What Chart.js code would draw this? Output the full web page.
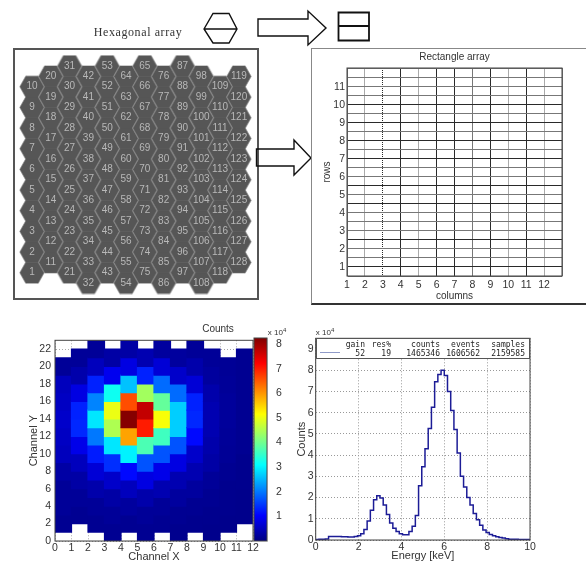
<!DOCTYPE html>
<html>
<head>
<meta charset="utf-8">
<script src="https://cdn.jsdelivr.net/npm/chart.js@4"></script>
<style>
  html, body { margin: 0; padding: 0; background: #fff; overflow: hidden; }
  #page { position: relative; width: 586px; height: 561px; overflow: hidden; filter: blur(0.4px); font-family: "Liberation Sans", sans-serif; color: #333; }
  #page canvas { position: absolute; }
  .text { position: absolute; transform: translate(-50%, -50%); white-space: nowrap; }
  .frame { position: absolute; box-sizing: border-box; }
  sup { font-size: 6px; }
</style>
</head>
<body>
<div id="page">
  <svg width="586" height="110" style="position:absolute;left:0;top:0" fill="none" stroke="#111">
    <path d="M204 29 L213 13.5 L229 13.5 L237 29 L229 43 L213 43 Z M204 29 H237" stroke-width="1.4"/>
    <path d="M308 19 H258 V36 H308 V45 L326 28 L308 11 Z" stroke-width="1.4"/>
    <path d="M338.5 12.5 H369 V40.5 H338.5 Z M338.5 26 H369" stroke-width="1.8"/>
  </svg>
  <div class="text" style="left:138px;top:32px;font:12px 'Liberation Serif',serif;letter-spacing:0.6px">Hexagonal array</div>

  <canvas id="hexChart" style="left:13px;top:48px" width="246" height="252"></canvas>
  <div class="frame" style="left:13px;top:48px;width:246px;height:252px;border:2.5px solid #555"></div>

  <svg width="586" height="200" style="position:absolute;left:0;top:100px" fill="none" stroke="#111">
    <path d="M294 49 H256.500 V66 H294 V75 L311 58 L294 40 Z" stroke-width="1.4"/>
  </svg>

  <div class="frame" style="left:311px;top:48px;width:280px;height:257px;border:1px solid #888;border-bottom:2px solid #333"></div>
  <canvas id="rectChart" style="left:311px;top:48px" width="275" height="256"></canvas>

  <canvas id="heatChart" style="left:20px;top:330px" width="240" height="240"></canvas>
  <canvas id="colorbarChart" style="left:250px;top:330px" width="40" height="220"></canvas>
  <div class="text" style="left:218px;top:328px;font-size:10px">Counts</div>
  <div class="text" style="left:277px;top:332px;font-size:8px">x 10<sup>4</sup></div>

  <canvas id="energyChart" style="left:290px;top:322px" width="296" height="248"></canvas>
  <div class="text" style="left:325px;top:332px;font-size:8px">x 10<sup>4</sup></div>
  <div id="legend" class="frame" style="left:316px;top:338px;width:214px;height:21px;background:#fff;border:1px solid #555"></div>
</div>
<script>
// hexagon numbering and counts, one list per detector column (bottom hexagon first)
const hexColumnBottomId = [1, 11, 21, 32, 43, 54, 75, 86, 97, 108, 118, 128];
const hexColumnIdStep = [1, 1, 1, 1, 1, 1, -1, -1, -1, -1, -1, -1];
const hexColumnFirstRow = [1, 2, 1, 0, 1, 0, 1, 0, 1, 0, 1, 2];

const countsColumn0 = [0.15, 0.2, 0.2, 0.3, 0.5, 0.55, 0.6, 0.55, 0.5, 0.2];
const countsColumn1 = [0.15, 0.2, 0.3, 0.5, 0.85, 1.35, 1.3, 0.8, 0.35, 0.2];
const countsColumn2 = [0.15, 0.2, 0.35, 0.7, 1.25, 2.0, 2.9, 2.1, 1.3, 0.5, 0.2];
const countsColumn3 = [0.15, 0.2, 0.3, 0.6, 1.4, 2.9, 4.5, 5.0, 3.2, 0.9, 0.3];
const countsColumn4 = [0.15, 0.25, 0.5, 1.1, 3.0, 5.9, 8.2, 6.6, 2.6, 0.8, 0.3];
const countsColumn5 = [0.15, 0.2, 0.35, 0.8, 1.7, 3.7, 7.0, 7.7, 4.4, 1.3, 0.4];
const countsColumn6 = [0.15, 0.2, 0.4, 0.85, 1.7, 3.6, 5.1, 3.9, 1.9, 0.7, 0.25];
const countsColumn7 = [0.12, 0.15, 0.25, 0.4, 0.8, 1.7, 2.7, 2.7, 1.9, 0.6, 0.25];
const countsColumn8 = [0.12, 0.15, 0.25, 0.4, 0.6, 1.1, 1.35, 1.3, 0.7, 0.35, 0.2];
const countsColumn9 = [0.1, 0.12, 0.15, 0.2, 0.3, 0.35, 0.4, 0.4, 0.35, 0.25, 0.2];
const countsColumn10 = [0.1, 0.12, 0.12, 0.15, 0.18, 0.2, 0.22, 0.22, 0.2, 0.18];
const countsColumn11 = [0.1, 0.1, 0.12, 0.12, 0.15, 0.15, 0.15, 0.15, 0.15, 0.15];
const countsColumns = [countsColumn0, countsColumn1, countsColumn2, countsColumn3, countsColumn4, countsColumn5,
  countsColumn6, countsColumn7, countsColumn8, countsColumn9, countsColumn10, countsColumn11];

// spectrum, value of each bin starts at the matching edge (counts x 10^4)
const energyEdges = [0, 0.15, 0.3, 0.45, 0.6, 0.75, 0.9, 1.05, 1.2, 1.35, 1.5, 1.65, 1.8, 1.95, 2.1, 2.25, 2.4, 2.55, 2.7, 2.85,
  3, 3.15, 3.3, 3.45, 3.6, 3.75, 3.9, 4.05, 4.2, 4.35, 4.5, 4.65, 4.8, 4.95, 5.1, 5.25, 5.4, 5.55, 5.7, 5.85,
  6, 6.15, 6.3, 6.45, 6.6, 6.75, 6.9, 7.05, 7.2, 7.35, 7.5, 7.65, 7.8, 7.95, 8.1, 8.25, 8.4, 8.55, 8.7, 8.85,
  9, 9.15, 9.3, 9.45, 9.6, 9.75, 9.9, 10];
const energyCounts = [0.02, 0.03, 0.04, 0.05, 0.17, 0.17, 0.17, 0.16, 0.15, 0.15, 0.14, 0.14, 0.17, 0.2, 0.3, 0.5, 0.9, 1.4, 1.9, 2.08,
  1.98, 1.65, 1.2, 0.8, 0.55, 0.4, 0.3, 0.25, 0.25, 0.4, 0.65, 1.15, 2.55, 3.45, 4.3, 5.25, 6.25, 7.45, 7.8, 8.0,
  7.75, 7.0, 6.1, 5.2, 4.1, 3.0, 2.5, 2.0, 1.65, 1.25, 0.95, 0.7, 0.47, 0.35, 0.26, 0.2, 0.15, 0.12, 0.09, 0.06,
  0.04, 0.03, 0.03, 0.02, 0.02, 0.02, 0.02, 0.02];

const legendHeaders = ["gain", "res%", "counts", "events", "samples"];
const legendValues = ["52", "19", "1465346", "1606562", "2159585"];
const legendRightEdges = [365, 391, 440, 480, 525];

// how dark each rectangle array grid line came out in the scan
const rectDarkColumns = [3, 4, 6, 7, 9, 11];
const rectLightColumns = [2, 5, 10, 12];
const rectDarkRows = [1, 2.5, 4.5, 5.5, 7, 8, 9, 10];

const HEAT_MAX = 8.25;
const JET_STOPS = [0, 0.125, 0.375, 0.625, 0.875, 1];
const TICK_COLOR = "#333";

Chart.defaults.animation = false;
Chart.defaults.font.family = '"Liberation Sans", sans-serif';
Chart.defaults.color = TICK_COLOR;
Chart.defaults.plugins.legend.display = false;
Chart.defaults.plugins.tooltip.enabled = false;

function jet(t) {
  const clamp = (v) => Math.round(255 * Math.max(0, Math.min(1, v)));
  const r = clamp(1.5 - Math.abs(4 * t - 3));
  const g = clamp(1.5 - Math.abs(4 * t - 2));
  const b = clamp(1.5 - Math.abs(4 * t - 1));
  return `rgb(${r}, ${g}, ${b})`;
}

// the plots are boxed on all four sides, Chart.js only has left and bottom
const plotBoxPlugin = {
  id: "plotBox",
  afterDraw(chart) {
    const { left, top, width, height } = chart.chartArea;
    const ctx = chart.ctx;
    ctx.save();
    ctx.strokeStyle = "#444";
    ctx.lineWidth = 1;
    ctx.strokeRect(left, top, width, height);
    ctx.restore();
  },
};

const hexLabelsPlugin = {
  id: "hexLabels",
  afterDatasetsDraw(chart) {
    const ctx = chart.ctx;
    const meta = chart.getDatasetMeta(0);
    ctx.save();
    ctx.fillStyle = "#b8b8b8";
    ctx.font = '10px "Liberation Sans", sans-serif';
    ctx.textAlign = "center";
    ctx.textBaseline = "middle";
    meta.data.forEach((point, index) => {
      ctx.fillText(String(chart.data.datasets[0].data[index].id), point.x, point.y);
    });
    ctx.restore();
  },
};

// neighbours in a column merge in the scan, only the slanted sides show a line
function hexagonSprite() {
  const sprite = document.createElement("canvas");
  sprite.width = 26;
  sprite.height = 23;
  const ctx = sprite.getContext("2d");
  ctx.beginPath();
  ctx.moveTo(0.8, 11.5);
  ctx.lineTo(6.8, 0.8);
  ctx.lineTo(19.2, 0.8);
  ctx.lineTo(25.2, 11.5);
  ctx.lineTo(19.2, 22.2);
  ctx.lineTo(6.8, 22.2);
  ctx.closePath();
  ctx.fillStyle = "#565656";
  ctx.fill();
  ctx.beginPath();
  ctx.moveTo(6.8, 0.8);
  ctx.lineTo(0.8, 11.5);
  ctx.lineTo(6.8, 22.2);
  ctx.moveTo(19.2, 0.8);
  ctx.lineTo(25.2, 11.5);
  ctx.lineTo(19.2, 22.2);
  ctx.strokeStyle = "#858585";
  ctx.lineWidth = 0.7;
  ctx.stroke();
  return sprite;
}

function buildHexPoints() {
  const points = [];
  countsColumns.forEach((counts, col) => {
    counts.forEach((_, i) => {
      points.push({ x: col, y: hexColumnFirstRow[col] + 2 * i, id: hexColumnBottomId[col] + hexColumnIdStep[col] * i });
    });
  });
  return points;
}

function buildHeatCells() {
  const cells = [];
  countsColumns.forEach((counts, col) => {
    counts.forEach((value, i) => {
      const row = hexColumnFirstRow[col] + 2 * i;
      cells.push({ x: col + 0.5, y: [row, row + 2], value });
    });
  });
  return cells;
}

const hexPoints = buildHexPoints();
const heatCells = buildHeatCells();

new Chart(document.getElementById("hexChart"), {
  type: "scatter",
  data: {
    datasets: [{
      data: hexPoints,
      pointStyle: hexagonSprite(),
      pointRadius: 12,
    }],
  },
  plugins: [hexLabelsPlugin],
  options: {
    responsive: false,
    layout: { padding: 0, autoPadding: false },
    scales: {
      x: { display: false, min: -1.01, max: 12.07 },
      y: { display: false, min: -1.64, max: 22.75 },
    },
  },
});

function rectColumnColor(value) {
  if (rectDarkColumns.includes(value)) return "#2a2a2a";
  if (rectLightColumns.includes(value)) return "#aaa";
  return "#777";
}

new Chart(document.getElementById("rectChart"), {
  type: "scatter",
  data: { datasets: [{ data: [] }] },
  plugins: [plotBoxPlugin],
  options: {
    responsive: false,
    layout: { padding: { left: 10, right: 24, top: 0, bottom: 2 } },
    plugins: {
      title: {
        display: true,
        text: "Rectangle array",
        fullSize: false,
        color: "#333",
        font: { size: 10, weight: "normal" },
        padding: { top: 3, bottom: 5 },
      },
    },
    scales: {
      x: {
        type: "linear",
        min: 1,
        max: 13,
        afterFit(scale) { scale.height = 26; },
        ticks: {
          stepSize: 1,
          padding: 3,
          maxRotation: 0,
          font: { size: 10.5 },
          callback: (value) => (value <= 12 ? String(value) : ""),
        },
        title: { display: true, text: "columns", font: { size: 10 }, padding: 0 },
        grid: {
          drawTicks: false,
          color: (ctx) => rectColumnColor(ctx.tick.value),
        },
        border: { dash: (ctx) => (ctx.tick && ctx.tick.value === 3 ? [1, 1] : []) },
      },
      y: {
        type: "linear",
        min: 0.5,
        max: 12.05,
        afterFit(scale) { scale.width = 26; },
        ticks: {
          stepSize: 0.5,
          autoSkip: false,
          includeBounds: false,
          padding: 2,
          font: { size: 10.5 },
          callback: (value) => (Number.isInteger(value) && value <= 11 ? String(value) : ""),
        },
        title: { display: true, text: "rows", font: { size: 10 }, padding: 0 },
        grid: {
          drawTicks: false,
          color: (ctx) => (rectDarkRows.includes(ctx.tick.value) ? "#2a2a2a" : "#777"),
        },
      },
    },
  },
});

new Chart(document.getElementById("heatChart"), {
  type: "bar",
  data: {
    datasets: [{
      data: heatCells,
      backgroundColor: heatCells.map((cell) => jet(cell.value / HEAT_MAX)),
      grouped: false,
      barPercentage: 1,
      categoryPercentage: 1,
      borderWidth: 0,
      inflateAmount: 0.6,
    }],
  },
  plugins: [plotBoxPlugin],
  options: {
    responsive: false,
    layout: { padding: { left: 7.5, right: 7, top: 8, bottom: 6.5 } },
    scales: {
      x: {
        type: "linear",
        min: 0,
        max: 12,
        offset: false,
        afterFit(scale) { scale.height = 22.5; },
        ticks: { stepSize: 1, padding: 1, maxRotation: 0, autoSkip: false, font: { size: 10.5 } },
        title: { display: true, text: "Channel X", font: { size: 11 }, padding: 0 },
        grid: { offset: false, drawTicks: false, color: "#aaa" },
        border: { dash: [1, 2] },
      },
      y: {
        type: "linear",
        min: 0,
        max: 23,
        afterFit(scale) { scale.width = 27.5; },
        ticks: { stepSize: 2, padding: 4, autoSkip: false, includeBounds: false, font: { size: 10.5 } },
        title: { display: true, text: "Channel Y", font: { size: 11 }, padding: 0 },
        grid: { drawTicks: false, color: "#aaa" },
        border: { dash: [1, 2] },
      },
    },
  },
});

new Chart(document.getElementById("colorbarChart"), {
  type: "bar",
  data: {
    labels: [""],
    datasets: [{
      data: [[0, HEAT_MAX]],
      barPercentage: 1,
      categoryPercentage: 1,
      backgroundColor(ctx) {
        const area = ctx.chart.chartArea;
        if (!area) return "#000";
        const gradient = ctx.chart.ctx.createLinearGradient(0, area.bottom, 0, area.top);
        JET_STOPS.forEach((t) => gradient.addColorStop(t, jet(t)));
        return gradient;
      },
    }],
  },
  plugins: [plotBoxPlugin],
  options: {
    responsive: false,
    layout: { padding: { left: 4, right: 0, top: 8, bottom: 9 } },
    scales: {
      x: { display: false },
      y: {
        position: "right",
        min: 0,
        max: HEAT_MAX,
        afterFit(scale) { scale.width = 23; },
        ticks: {
          stepSize: 1,
          padding: 1,
          autoSkip: false,
          includeBounds: false,
          font: { size: 10.5 },
          callback: (value) => (value >= 1 ? String(value) : ""),
        },
        grid: { display: false },
      },
    },
  },
});

new Chart(document.getElementById("energyChart"), {
  type: "line",
  data: {
    datasets: [{
      data: energyEdges.map((edge, i) => ({ x: edge, y: energyCounts[i] })),
      borderColor: "#1c1c96",
      borderWidth: 1.5,
      pointRadius: 0,
      stepped: true,
    }],
  },
  plugins: [plotBoxPlugin],
  options: {
    responsive: false,
    layout: { padding: { left: 5, right: 56, top: 16.3, bottom: 7 } },
    scales: {
      x: {
        type: "linear",
        min: 0,
        max: 10,
        afterFit(scale) { scale.height = 23; },
        ticks: { stepSize: 2, padding: 1, maxRotation: 0, font: { size: 10.5 } },
        title: { display: true, text: "Energy [keV]", font: { size: 11 }, padding: 0 },
        grid: { drawTicks: false, color: "#999" },
        border: { dash: [1, 2] },
      },
      y: {
        type: "linear",
        min: 0,
        max: 9.5,
        afterFit(scale) { scale.width = 20.7; },
        ticks: {
          stepSize: 1,
          padding: 2,
          autoSkip: false,
          includeBounds: false,
          font: { size: 10.5 },
        },
        title: { display: true, text: "Counts", font: { size: 11 }, padding: 0 },
        grid: { drawTicks: false, color: "#999" },
        border: { dash: [1, 2] },
      },
    },
  },
});

// multi-column legend of the spectrum plot
function addLegendRow(texts, top) {
  const legend = document.getElementById("legend");
  texts.forEach((text, i) => {
    const span = document.createElement("span");
    span.textContent = text;
    span.style.cssText = `position:absolute;right:${529 - legendRightEdges[i]}px;top:${top}px;` +
      'font:8px/9px "DejaVu Sans Mono",monospace;color:#222;white-space:pre';
    legend.appendChild(span);
  });
}
addLegendRow(legendHeaders, 0.5);
addLegendRow(legendValues, 10);

const legendLine = document.createElement("div");
legendLine.style.cssText = "position:absolute;left:3px;top:13px;width:20px;height:1px;background:#8f9ac8";
document.getElementById("legend").appendChild(legendLine);
</script>
</body>
</html>
